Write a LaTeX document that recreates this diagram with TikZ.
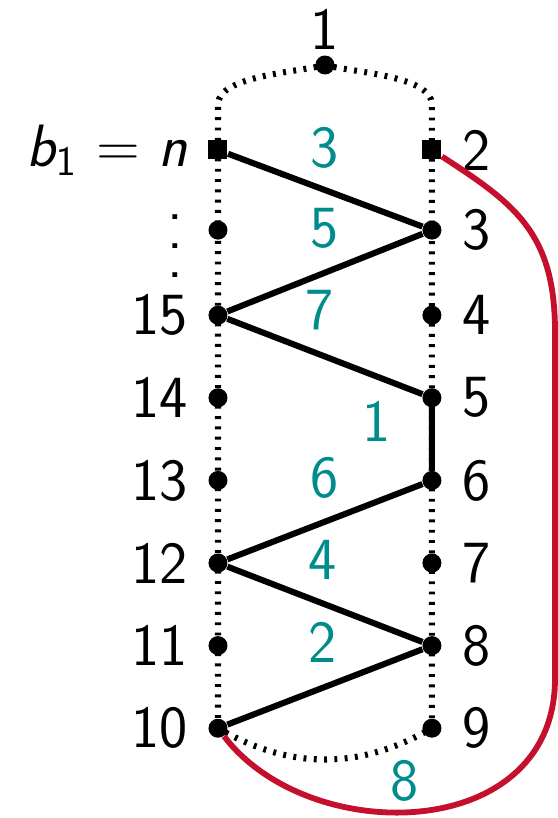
\documentclass[tikz,border=0pt]{standalone}
\usepackage{tikz}
\usetikzlibrary{positioning}
\definecolor{edgeteal}{RGB}{0,140,140}
\definecolor{cutred}{RGB}{196,16,44}

\begin{document}
\begin{tikzpicture}[
  font=\fontsize{20.6}{24}\selectfont\sffamily,
  % ---- node styles ----
  vtx/.style={circle, fill=black, inner sep=0pt, minimum size=0.23cm},
  endvtx/.style={rectangle, fill=black, inner sep=0pt, minimum size=0.23cm},
  lbl/.style={inner sep=0.5pt},
  dotlbl/.style={inner sep=0pt},
  elbl/.style={inner sep=0.5pt, text=edgeteal},
  % ---- line styles ----
  dotcycle/.style={line width=2.1pt, dash pattern=on 1pt off 2.55pt},
  tour/.style={line width=2.1pt},
  back/.style={line width=2pt, draw=cutred},
]
\useasboundingbox (-2.639,1.816) rectangle (4.116,-8.087);

% ---- left column ----
\node[endvtx] (l0) at (0, 0)     {};
\node[vtx]    (l1) at (0,-0.97)  {};
\node[vtx]    (l2) at (0,-2)     {};
\node[vtx]    (l3) at (0,-3)     {};
\node[vtx]    (l4) at (0,-4)     {};
\node[vtx]    (l5) at (0,-5)     {};
\node[vtx]    (l6) at (0,-6)     {};
\node[vtx]    (l7) at (0,-7)     {};

% ---- right column ----
\node[endvtx] (r0) at (2.59, 0)    {};
\node[vtx]    (r1) at (2.59,-0.97) {};
\node[vtx]    (r2) at (2.59,-2)    {};
\node[vtx]    (r3) at (2.59,-3)    {};
\node[vtx]    (r4) at (2.59,-4)    {};
\node[vtx]    (r5) at (2.59,-5)    {};
\node[vtx]    (r6) at (2.59,-6)    {};
\node[vtx]    (r7) at (2.59,-7)    {};

% ---- top vertex ----
\node[vtx] (top) at (1.295,1.029) {};
\coordinate (lt) at (0,0.55);
\coordinate (rt) at (2.59,0.55);

% ---- vertex labels ----
\node[lbl, above=0.04cm of top] (t1) {1};
\node[lbl, right=0.22cm of r0] (t2) {2};
\node[lbl, right=0.22cm of r1] (t3) {3};
\node[lbl, right=0.22cm of r2] (t4) {4};
\node[lbl, right=0.22cm of r3] (t5) {5};
\node[lbl, right=0.22cm of r4] (t6) {6};
\node[lbl, right=0.22cm of r5] (t7) {7};
\node[lbl, right=0.22cm of r6] (t8) {8};
\node[lbl, right=0.22cm of r7] (t9) {9};
\node[lbl, left=0.22cm of l0] (tn) {{\slshape b}$_{\mathsf{1}}$\ =\ {\slshape n}};
\node[dotlbl] (vd1) at (-0.52,-0.81) {.};
\node[dotlbl] (vd2) at (-0.52,-1.16) {.};
\node[dotlbl] (vd3) at (-0.52,-1.51) {.};
\node[lbl, left=0.22cm of l2] (t15) {15};
\node[lbl, left=0.22cm of l3] (t14) {14};
\node[lbl, left=0.22cm of l4] (t13) {13};
\node[lbl, left=0.22cm of l5] (t12) {12};
\node[lbl, left=0.22cm of l6] (t11) {11};
\node[lbl, left=0.22cm of l7] (t10) {10};

% ---- dotted cycle ----
\draw[dotcycle] (l7.center) -- (lt) to[out=90,in=195,looseness=0.65] (top.center)
  to[out=-15,in=90,looseness=0.65] (rt) -- (r7.center) to[bend left=30] (l7.center);

% ---- zigzag tour ----
\draw[tour] (l0) -- (r1) -- (l2) -- (r3) -- (r4) -- (l5) -- (r6) -- (l7);

% ---- closing edge (red) ----
\coordinate (rs) at (4.08,-2.2);
\coordinate (re) at (4.08,-6.4);
\draw[back] (r0) .. controls (3.59,-0.65) and (4.08,-1.0) .. (rs) -- (re)
  .. controls (4.08,-8.4) and (1.1,-8.45) .. (l7);

% ---- edge numbers ----
\node[elbl] (e3) at (1.295, 0.02) {3};
\node[elbl] (e5) at (1.295,-0.95) {5};
\node[elbl] (e7) at (1.235,-1.94) {7};
\node[elbl] (e1) at (1.925,-3.29) {1};
\node[elbl] (e6) at (1.295,-3.97) {6};
\node[elbl] (e4) at (1.26,-4.96) {4};
\node[elbl] (e2) at (1.26,-5.96) {2};
\node[elbl] (e8) at (2.264,-7.64) {8};

\end{tikzpicture}
\end{document}
